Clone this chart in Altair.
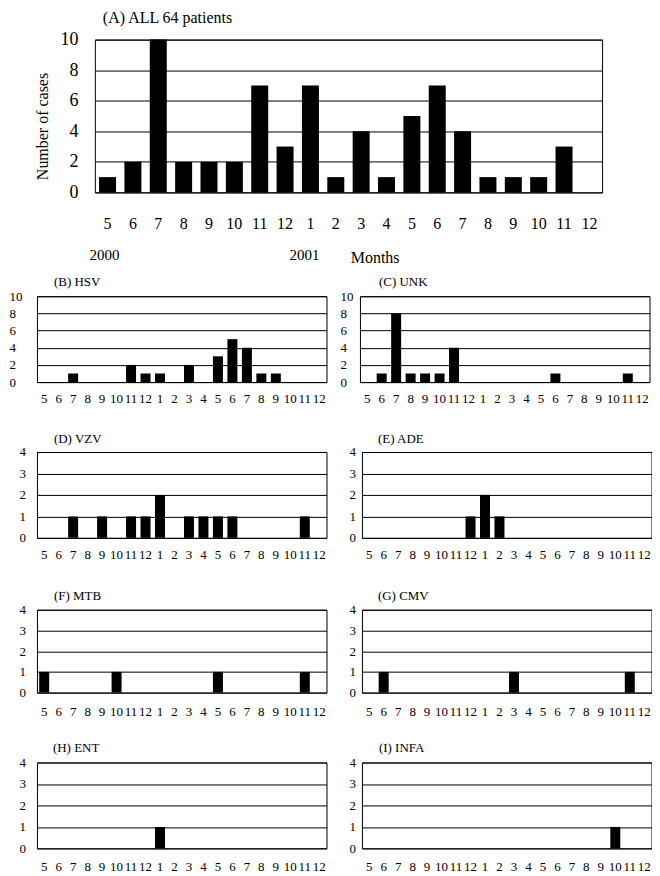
import altair as alt
import pandas as pd

years = [2000] * 8 + [2001] * 12
months = [5, 6, 7, 8, 9, 10, 11, 12, 1, 2, 3, 4, 5, 6, 7, 8, 9, 10, 11, 12]
keys = [f"{y}-{m}" for y, m in zip(years, months)]

all_cases = [1, 2, 10, 2, 2, 2, 7, 3, 7, 1, 4, 1, 5, 7, 4, 1, 1, 1, 3, 0]
hsv = [0, 0, 1, 0, 0, 0, 2, 1, 1, 0, 2, 0, 3, 5, 4, 1, 1, 0, 0, 0]
unk = [0, 1, 8, 1, 1, 1, 4, 0, 0, 0, 0, 0, 0, 1, 0, 0, 0, 0, 1, 0]
vzv = [0, 0, 1, 0, 1, 0, 1, 1, 2, 0, 1, 1, 1, 1, 0, 0, 0, 0, 1, 0]
ade = [0, 0, 0, 0, 0, 0, 0, 1, 2, 1, 0, 0, 0, 0, 0, 0, 0, 0, 0, 0]
mtb = [1, 0, 0, 0, 0, 1, 0, 0, 0, 0, 0, 0, 1, 0, 0, 0, 0, 0, 1, 0]
cmv = [0, 1, 0, 0, 0, 0, 0, 0, 0, 0, 1, 0, 0, 0, 0, 0, 0, 0, 1, 0]
ent = [0, 0, 0, 0, 0, 0, 0, 0, 1, 0, 0, 0, 0, 0, 0, 0, 0, 0, 0, 0]
infa = [0, 0, 0, 0, 0, 0, 0, 0, 0, 0, 0, 0, 0, 0, 0, 0, 0, 1, 0, 0]

titles = ["(A) ALL 64 patients", "(B) HSV", "(C) UNK", "(D) VZV", "(E) ADE",
          "(F) MTB", "(G) CMV", "(H) ENT", "(I) INFA"]
y_title = ["Number of cases"]
annot_text = ["2000", "2001", "Months"]
annot_key = ["2000-5", "2001-1", "2001-3"]

FONT = "Liberation Serif"
LABEL_EXPR = "split(datum.value, '-')[1]"
ONE = pd.DataFrame({"a": [0]})


def ghost(x1, x2, y):
    # invisible rule used only to reserve layout room
    return alt.Chart(ONE).mark_rule(opacity=0).encode(
        x=alt.value(x1), x2=alt.value(x2), y=alt.value(y))


def panel(values, title, ymax, ystep, w, h, *, xl_size, xl_pad, yl_size, yl_pad,
          yl_align, band_pad, t_size, t_dx, t_off, left, bottom=None, extra=()):
    df = pd.DataFrame({"key": keys, "n": values})
    yaxis_kw = dict(values=list(range(0, ymax + 1, ystep)), labelFontSize=yl_size,
                    labelPadding=yl_pad, labelAlign=yl_align, labelFont=FONT,
                    labelColor="black", ticks=False, tickSize=0, domain=False,
                    grid=True, gridColor="black", gridOpacity=1, gridWidth=1,
                    title=None)
    b = alt.Chart(df).mark_bar(color="black").encode(
        x=alt.X("key:N", sort=None,
                scale=alt.Scale(domain=keys, paddingInner=band_pad, paddingOuter=band_pad / 2),
                axis=alt.Axis(title=None, labelExpr=LABEL_EXPR, labelAngle=0,
                              labelFontSize=xl_size, labelPadding=xl_pad, grid=False,
                              labelOverlap=False, labelFont=FONT, labelColor="black",
                              ticks=False, tickSize=0, domain=False)),
        y=alt.Y("n:Q", scale=alt.Scale(domain=[0, ymax], nice=False, zero=True),
                axis=alt.Axis(**yaxis_kw)),
    )
    layers = [b, ghost(-left, -left + 1, 0)]
    if bottom is not None:
        layers.append(ghost(0, 1, h + bottom))
    layers.extend(extra)
    return alt.layer(*layers).properties(
        width=w, height=h,
        title=alt.TitleParams(title, anchor="start", frame="group", dx=t_dx, offset=t_off,
                              fontSize=t_size, font=FONT, fontWeight="normal",
                              color="black"))


# Panel A annotations (years and axis name under the month labels)
ann = []
for txt, k, dx, yy, fs in zip(annot_text, annot_key, [-3, -6, 14], [216, 216, 219],
                              [15, 15, 16]):
    ann.append(alt.Chart(pd.DataFrame({"key": [k], "t": [txt]})).mark_text(
        font=FONT, fontSize=fs, color="black", dx=dx, baseline="middle").encode(
        x=alt.X("key:N", sort=None), y=alt.value(yy), text="t:N"))
# rotated y-axis name of panel A
ann.append(alt.Chart(pd.DataFrame({"t": y_title})).mark_text(
    font=FONT, fontSize=16, color="black", angle=270, align="center",
    baseline="middle").encode(x=alt.value(-52), y=alt.value(87), text="t:N"))

chartA = panel(all_cases, titles[0], 10, 2, 508, 153, xl_size=16, xl_pad=23,
               yl_size=18, yl_pad=17, yl_align="right", band_pad=0.33,
               t_size=16, t_dx=8, t_off=5, left=60, bottom=82, extra=ann)

spacer = alt.Chart(ONE).mark_rule(opacity=0).encode(
    x=alt.value(0), x2=alt.value(1), y=alt.value(0)
).properties(width=1, height=1, view=alt.ViewBackground(strokeOpacity=0))

# (values, title, ymax, ystep, height, label pad y, title dx, title offset,
#  x-label pad, left room, bottom room)
spec = [
    (hsv, titles[1], 10, 2, 86, 28, 17, 1.5, 10, 28, 49.5),
    (unk, titles[2], 10, 2, 86, 20, 19, 1.5, 10, 20, 49.5),
    (vzv, titles[3], 4, 1, 86, 18, 17, 0, 11, 28, 50),
    (ade, titles[4], 4, 1, 86, 13, 16, 0, 11, 20, 50),
    (mtb, titles[5], 4, 1, 83, 18, 17, 1, 13, 28, 47),
    (cmv, titles[6], 4, 1, 83, 13, 16, 1, 13, 20, 47),
    (ent, titles[7], 4, 1, 86, 18, 16, 2, 12, 28, None),
    (infa, titles[8], 4, 1, 86, 13, 17, 2, 12, 20, None),
]
charts = []
for vals, t, ymax, ystep, h, ylp, tdx, toff, xlp, left, bottom in spec:
    charts.append(panel(vals, t, ymax, ystep, 290, h, xl_size=13, xl_pad=xlp,
                        yl_size=13, yl_pad=ylp, yl_align="left", band_pad=0.31,
                        t_size=13, t_dx=tdx, t_off=toff, left=left, bottom=bottom))

rows = [
    alt.hconcat(spacer, chartA, spacing=-4),
    alt.hconcat(charts[0], charts[1], spacing=11.5),
    alt.hconcat(charts[2], charts[3], spacing=13.5),
    alt.hconcat(charts[4], charts[5], spacing=13.5),
    alt.hconcat(charts[6], charts[7], spacing=13.5),
]
chart = alt.vconcat(*rows, spacing=0).properties(
    padding={"left": 0, "top": 0, "right": 0, "bottom": 0}, background="white"
).configure_view(stroke="black", strokeWidth=1)

chart.save("out.html", embed_options={"renderer": "svg", "actions": False})
